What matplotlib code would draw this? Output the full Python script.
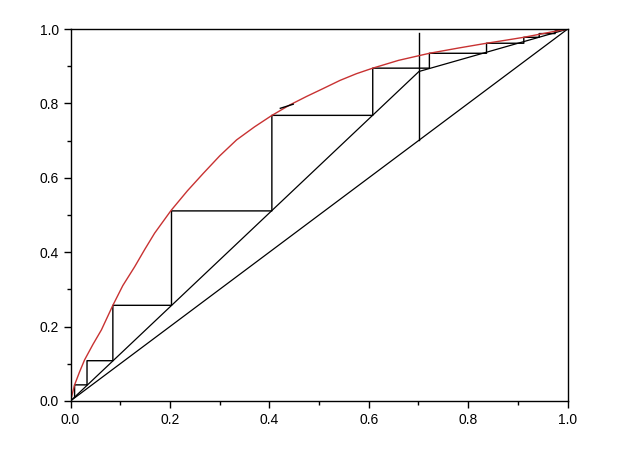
import numpy as np
import matplotlib.pyplot as plt

plt.rcParams['font.family'] = ['Liberation Sans', 'DejaVu Sans']

# equilibrium curve
eq_x = [0.0, 0.004, 0.008, 0.018, 0.028, 0.045, 0.062, 0.085, 0.105, 0.129,
        0.149, 0.169, 0.202, 0.235, 0.267, 0.30, 0.334, 0.37, 0.404, 0.441,
        0.475, 0.508, 0.542, 0.575, 0.608, 0.66, 0.722, 0.78, 0.837, 0.875,
        0.912, 0.943, 0.97, 1.0]
eq_y = [0.0, 0.022, 0.043, 0.078, 0.110, 0.152, 0.191, 0.257, 0.31, 0.361,
        0.407, 0.451, 0.512, 0.565, 0.612, 0.659, 0.702, 0.737, 0.767, 0.796,
        0.819, 0.840, 0.862, 0.880, 0.895, 0.916, 0.935, 0.949, 0.962, 0.970,
        0.978, 0.986, 0.993, 1.0]

# operating lines: stripping section, rectifying section
op_x = [0.0, 0.701, 1.0]
op_y = [0.0, 0.886, 1.0]

# feed line (vertical)
q_x = [0.701, 0.701]
q_y = [0.701, 0.989]

# stair steps corners
st_x = [0.008, 0.008, 0.033, 0.033, 0.085, 0.085, 0.203, 0.203, 0.405, 0.405,
        0.608, 0.608, 0.722, 0.722, 0.837, 0.837, 0.912, 0.912, 0.943, 0.943,
        0.975, 0.975, 1.0]
st_y = [0.010, 0.043, 0.043, 0.108, 0.108, 0.257, 0.257, 0.511, 0.511, 0.768,
        0.768, 0.895, 0.895, 0.935, 0.935, 0.962, 0.962, 0.978, 0.978, 0.988,
        0.988, 0.995, 1.0]

fig = plt.figure(figsize=(6.42, 4.55), dpi=100)
ax = fig.add_axes([0.110, 0.119, 0.774, 0.817])

ax.plot([0, 1], [0, 1], color='black', lw=0.9)
ax.plot(op_x, op_y, color='black', lw=0.9)
ax.plot(q_x, q_y, color='black', lw=1.0)
ax.plot(st_x, st_y, color='black', lw=1.0)
ax.plot(eq_x, eq_y, color='#c83232', lw=1.0)
# small black dash on the curve
ax.plot([0.422, 0.448], [0.787, 0.798], color='black', lw=1.0)

ax.set_xlim(0, 1)
ax.set_ylim(0, 1)
ax.set_xticks(np.arange(0, 1.01, 0.2))
ax.set_yticks(np.arange(0, 1.01, 0.2))
ax.set_xticks(np.arange(0.1, 1.0, 0.2), minor=True)
ax.set_yticks(np.arange(0.1, 1.0, 0.2), minor=True)
ax.set_xticklabels(['0.0', '0.2', '0.4', '0.6', '0.8', '1.0'])
ax.set_yticklabels(['0.0', '0.2', '0.4', '0.6', '0.8', '1.0'])
ax.tick_params(which='major', length=5, width=1, labelsize=10, direction='out')
ax.tick_params(which='minor', length=3, width=1, direction='out')
for s in ax.spines.values():
    s.set_linewidth(1.0)

fig.savefig('out.png', dpi=100)
